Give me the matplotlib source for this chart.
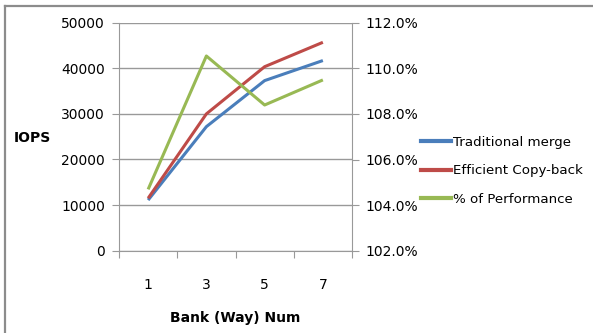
import matplotlib
matplotlib.use("Agg")
import matplotlib.pyplot as plt
from matplotlib.lines import Line2D

plt.rcParams['font.family'] = ['DejaVu Sans']

banks = ["1", "3", "5", "7"]
traditional_merge = [11100, 27200, 37300, 41700]
efficient_copyback = [11500, 30000, 40350, 45700]
pct_performance = [104.69, 110.54, 108.39, 109.49]

left_ticks = [0, 10000, 20000, 30000, 40000, 50000]
right_ticks = [102.0, 104.0, 106.0, 108.0, 110.0, 112.0]

W, H = 593, 333
fig = plt.figure(figsize=(W / 100, H / 100), dpi=100)

# outer chart border (top and left edges visible)
border_kw = dict(color="#8c8c8c", lw=1.6, transform=fig.transFigure)
fig.add_artist(Line2D([5 / W, 5 / W], [0, 1 - 6 / H], **border_kw))
fig.add_artist(Line2D([5 / W, 1], [1 - 6 / H, 1 - 6 / H], **border_kw))

x0, x1 = 119 / W, 352 / W
y0, y1 = 1 - 250.7 / H, 1 - 22.7 / H
ax = fig.add_axes([x0, y0, x1 - x0, y1 - y0])
ax2 = ax.twinx()

xs = list(range(len(banks)))
c_blue, c_red, c_green = "#4a7ebb", "#be4b48", "#98b954"
ax.plot(xs, traditional_merge, color=c_blue, lw=2.2, solid_capstyle="butt", zorder=3)
ax.plot(xs, efficient_copyback, color=c_red, lw=2.2, solid_capstyle="butt", zorder=3)
ax2.plot(xs, pct_performance, color=c_green, lw=2.2, solid_capstyle="butt", zorder=3)

ax.set_xlim(-0.5, len(banks) - 0.5)
ax.set_ylim(0, 50000)
ax2.set_ylim(102, 112)

ax.set_yticks(left_ticks)
ax.set_yticklabels([str(v) for v in left_ticks])
ax2.set_yticks(right_ticks)
ax2.set_yticklabels([f"{v:.1f}%" for v in right_ticks])

# category ticks at the boundaries, labels at centers
ax.set_xticks([i - 0.5 for i in range(len(banks) + 1)])
ax.set_xticklabels([])
ax.set_xticks(xs, minor=True)
ax.set_xticklabels(banks, minor=True)
ax.tick_params(axis="x", which="minor", length=0, pad=20, labelsize=10)
ax.tick_params(axis="x", which="major", length=5, color="#999999", direction="out")

grey = "#999999"
ax.yaxis.grid(True, color=grey, lw=1.0)
ax.set_axisbelow(True)
ax.tick_params(axis="y", length=5, color=grey, labelsize=10, pad=5)
ax2.tick_params(axis="y", length=5, color=grey, labelsize=10, pad=5)

for a in (ax, ax2):
    for s in a.spines.values():
        s.set_visible(False)
ax.spines["left"].set_visible(True)
ax.spines["left"].set_color(grey)
ax.spines["bottom"].set_visible(True)
ax.spines["bottom"].set_color(grey)
ax2.spines["right"].set_visible(True)
ax2.spines["right"].set_color(grey)

fig.text(32 / W, 1 - 138 / H, "IOPS", fontsize=10, fontweight="bold",
         ha="center", va="center")
fig.text(235 / W, 1 - 318 / H, "Bank (Way) Num", fontsize=10, fontweight="bold",
         ha="center", va="center")

handles = [Line2D([], [], color=c, lw=3) for c in (c_blue, c_red, c_green)]
labels = ["Traditional merge", "Efficient Copy-back", "% of Performance"]
fig.legend(handles, labels, loc="upper left", bbox_to_anchor=(416 / W, 1 - 130.5 / H),
           frameon=False, fontsize=9.6, handlelength=2.2, handletextpad=0.2,
           labelspacing=1.16, borderaxespad=0)

fig.savefig("out.png", dpi=100)
